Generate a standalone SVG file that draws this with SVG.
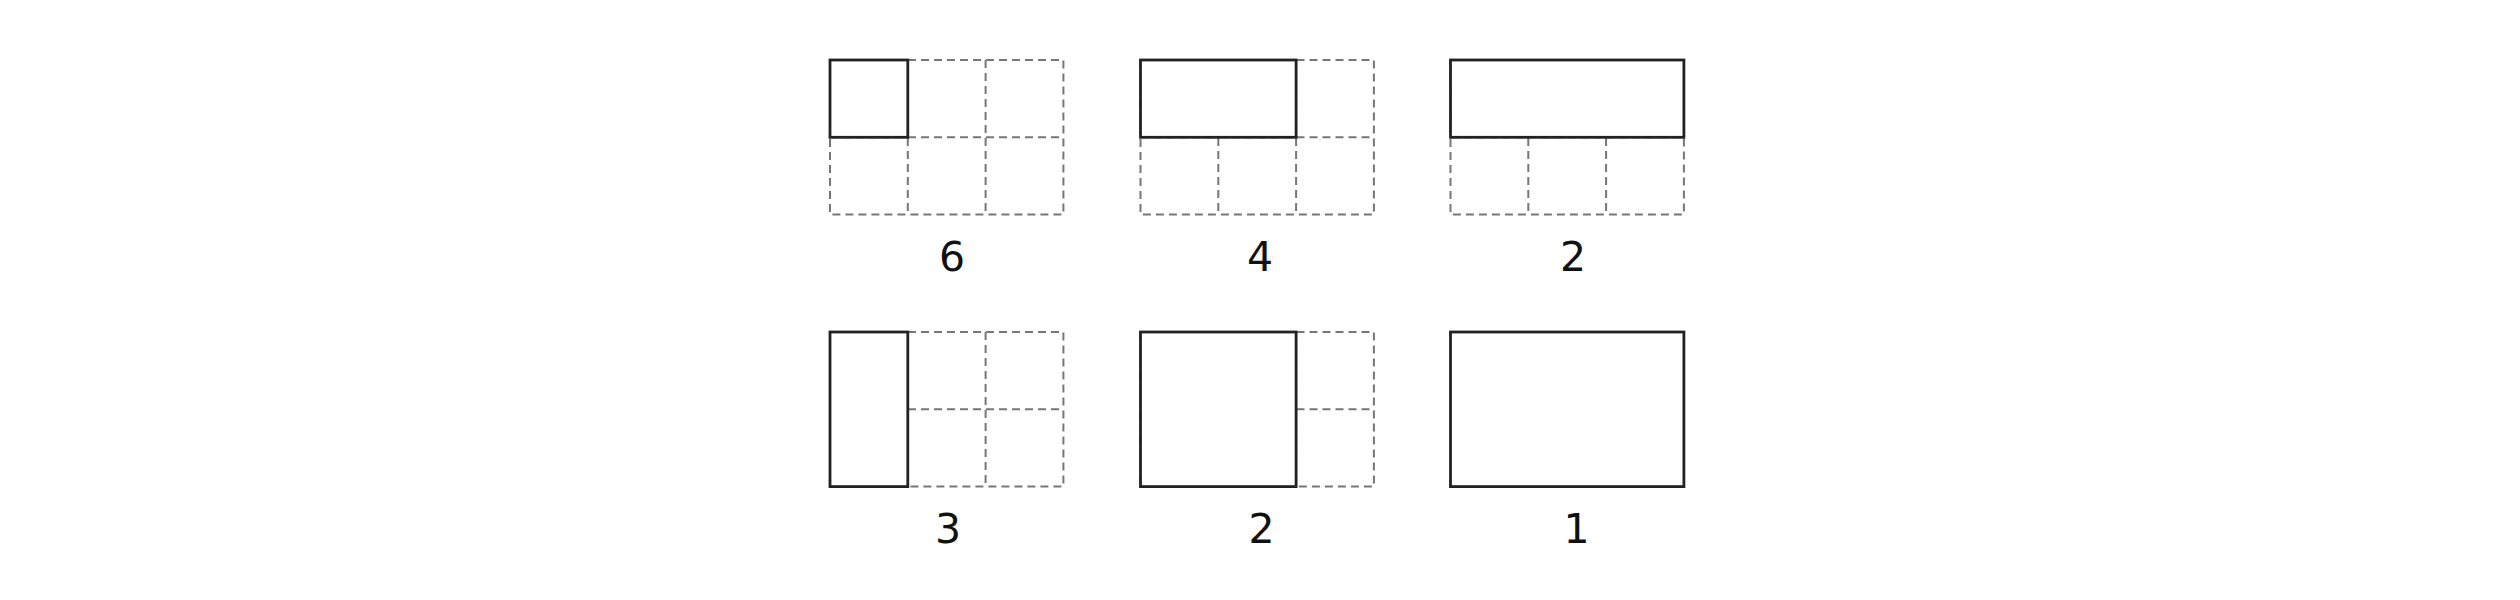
<svg xmlns="http://www.w3.org/2000/svg" width="2520" height="600" viewBox="0 0 2520 600">
<style>
.dash{fill:none;stroke:#777;stroke-width:2;stroke-dasharray:8,5;stroke-linejoin:round}
.solid{fill:#fff;stroke:#222;stroke-width:2.8}
.lbl{font-family:"DejaVu Sans",Verdana,sans-serif;font-size:41px;fill:#111;text-anchor:middle}
</style>
<defs>
<g id="grid">
<rect class="dash" x="0" y="0" width="233.4" height="154.6"/>
<line class="dash" x1="77.8" y1="0" x2="77.8" y2="154.6"/>
<line class="dash" x1="155.6" y1="0" x2="155.6" y2="154.6"/>
<line class="dash" x1="0" y1="77.3" x2="233.4" y2="77.3"/>
</g>
</defs>
<rect width="2520" height="600" fill="#fff"/>
<g id="n6" transform="translate(830,60)">
<use href="#grid"/>
<rect class="solid" x="0" y="0" width="77.8" height="77.3"/>
<text class="lbl" x="122" y="211">6</text>
</g>
<g id="n4" transform="translate(1140.5,60)">
<use href="#grid"/>
<rect class="solid" x="0" y="0" width="155.6" height="77.3"/>
<text class="lbl" x="119.5" y="211">4</text>
</g>
<g id="n2a" transform="translate(1450.5,60)">
<use href="#grid"/>
<rect class="solid" x="0" y="0" width="233.4" height="77.3"/>
<text class="lbl" x="122.5" y="211">2</text>
</g>
<g id="n3" transform="translate(830,332)">
<use href="#grid"/>
<rect class="solid" x="0" y="0" width="77.8" height="154.6"/>
<text class="lbl" x="118" y="211">3</text>
</g>
<g id="n2b" transform="translate(1140.5,332)">
<use href="#grid"/>
<rect class="solid" x="0" y="0" width="155.6" height="154.6"/>
<text class="lbl" x="121" y="211">2</text>
</g>
<g id="n1" transform="translate(1450.5,332)">
<rect class="solid" x="0" y="0" width="233.4" height="154.6"/>
<text class="lbl" x="126" y="211">1</text>
</g>
<g id="connectors"/>
</svg>
